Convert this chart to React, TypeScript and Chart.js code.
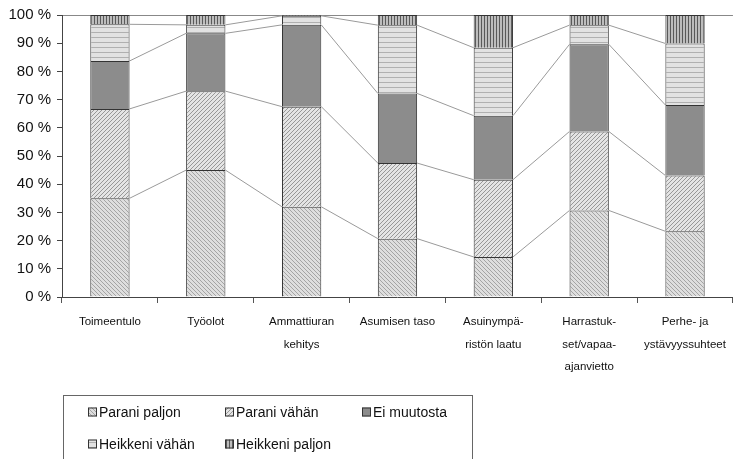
import React, { useEffect, useRef } from 'react';
import { Chart, registerables } from 'chart.js';

Chart.register(...registerables);

const categories: string[][] = [
  ['Toimeentulo'],
  ['Työolot'],
  ['Ammattiuran', 'kehitys'],
  ['Asumisen taso'],
  ['Asuinympä-', 'ristön laatu'],
  ['Harrastuk-', 'set/vapaa-', 'ajanvietto'],
  ['Perhe- ja', 'ystävyyssuhteet'],
];
const seriesNames = ['Parani paljon', 'Parani vähän', 'Ei muutosta', 'Heikkeni vähän', 'Heikkeni paljon'];
const paraniPaljon = [35, 45, 32, 20.7, 14.2, 30.7, 23.3];
const paraniVahan = [31.7, 28, 35.5, 26.8, 27.4, 28, 19.8];
const eiMuutosta = [17, 20.5, 29, 24.7, 22.7, 30.9, 25];
const heikkeniVahan = [13, 3, 3.2, 24.2, 24.1, 6.8, 21.8];
const heikkeniPaljon = [3.3, 3.5, 0.3, 3.6, 11.6, 3.6, 10.1];
const yTickValues = [0, 10, 20, 30, 40, 50, 60, 70, 80, 90, 100];

const FONT = '"Liberation Sans", Arial, sans-serif';

function makePattern(kind: string): CanvasPattern | string {
  const c = document.createElement('canvas');
  const s = kind === 'vert' ? 3 : kind === 'horiz' ? 5 : 4;
  c.width = s;
  c.height = s;
  const g = c.getContext('2d')!;
  if (kind === 'back') {
    g.fillStyle = '#dedede';
    g.fillRect(0, 0, s, s);
    g.strokeStyle = '#a4a4a4';
    g.lineWidth = 1;
    g.beginPath();
    g.moveTo(-1, -1);
    g.lineTo(s + 1, s + 1);
    g.stroke();
  } else if (kind === 'fwd') {
    g.fillStyle = '#e4e4e4';
    g.fillRect(0, 0, s, s);
    g.strokeStyle = '#979797';
    g.lineWidth = 1;
    g.beginPath();
    g.moveTo(-1, s + 1);
    g.lineTo(s + 1, -1);
    g.stroke();
  } else if (kind === 'horiz') {
    g.fillStyle = '#e2e2e2';
    g.fillRect(0, 0, s, s);
    g.fillStyle = '#b0b0b0';
    g.fillRect(0, 2, s, 1);
  } else if (kind === 'vert') {
    g.fillStyle = '#bdbdbd';
    g.fillRect(0, 0, s, s);
    g.fillStyle = '#5a5a5a';
    g.fillRect(1, 0, 1, s);
  }
  const p = g.createPattern(c, 'repeat');
  return p || '#ccc';
}

const connectorPlugin = {
  id: 'connectors',
  beforeDatasetsDraw(chart: any) {
    const ctx = chart.ctx;
    ctx.save();
    ctx.strokeStyle = '#9a9a9a';
    ctx.lineWidth = 1;
    const n = chart.data.datasets.length;
    for (let d = 0; d < n - 1; d++) {
      const meta = chart.getDatasetMeta(d);
      const els = meta.data;
      for (let i = 0; i < els.length - 1; i++) {
        const a = els[i].getProps(['x', 'y', 'width'], true);
        const b = els[i + 1].getProps(['x', 'y', 'width'], true);
        ctx.beginPath();
        ctx.moveTo(a.x + a.width / 2, a.y);
        ctx.lineTo(b.x - b.width / 2, b.y);
        ctx.stroke();
      }
    }
    ctx.restore();
  },
};

const legendPlugin = {
  id: 'boxLegend',
  afterDraw(chart: any) {
    const ctx = chart.ctx;
    ctx.save();
    ctx.strokeStyle = '#666';
    ctx.lineWidth = 1;
    ctx.strokeRect(63.5, 395.5, 409, 70);
    ctx.font = '14px ' + FONT;
    ctx.textBaseline = 'middle';
    ctx.textAlign = 'left';
    chart.data.datasets.forEach((ds: any, i: number) => {
      const col = i % 3;
      const row = Math.floor(i / 3);
      const x = 88 + col * 137;
      const y = 412 + row * 32;
      ctx.fillStyle = ds.backgroundColor;
      ctx.fillRect(x, y - 4.5, 9, 9);
      ctx.strokeStyle = '#333';
      ctx.strokeRect(x + 0.5, y - 4, 8, 8);
      ctx.fillStyle = '#111';
      ctx.fillText(ds.label, x + 11, y + 1);
    });
    ctx.restore();
  },
};

export default function App() {
  const ref = useRef<HTMLCanvasElement>(null);
  useEffect(() => {
    document.body.style.margin = '0';
    const fills = [
      makePattern('back'),
      makePattern('fwd'),
      '#8c8c8c',
      makePattern('horiz'),
      makePattern('vert'),
    ];
    const series = [paraniPaljon, paraniVahan, eiMuutosta, heikkeniVahan, heikkeniPaljon];
    const chart = new Chart(ref.current!, {
      type: 'bar',
      data: {
        labels: categories,
        datasets: series.map((vals, i) => ({
          label: seriesNames[i],
          data: vals,
          backgroundColor: fills[i] as any,
          borderColor: '#333',
          borderWidth: 1,
          barPercentage: 0.41,
          categoryPercentage: 1,
        })),
      },
      options: {
        animation: false,
        responsive: true,
        maintainAspectRatio: false,
        layout: { padding: { top: 14, right: 1, left: 0, bottom: 0 } },
        plugins: {
          legend: { display: false },
          tooltip: { enabled: false },
        },
        scales: {
          x: {
            stacked: true,
            afterFit: (s: any) => {
              s.height = 162;
            },
            grid: {
              display: true,
              drawOnChartArea: false,
              offset: true,
              tickLength: 6,
              tickColor: '#555',
              color: '#555',
            },
            border: { display: true, color: '#444', width: 1 },
            ticks: {
              padding: 8,
              maxRotation: 0,
              autoSkip: false,
              color: '#111',
              font: { family: FONT, size: 11.5, lineHeight: 1.95 },
            },
          },
          y: {
            stacked: true,
            min: 0,
            max: 100,
            afterFit: (s: any) => {
              s.width = 62;
            },
            afterBuildTicks: (s: any) => {
              s.ticks = yTickValues.map((v) => ({ value: v }));
            },
            grid: {
              display: true,
              drawOnChartArea: true,
              tickLength: 5,
              tickColor: '#444',
              color: (c: any) => (c.tick && c.tick.value === 100 ? '#888' : 'rgba(0,0,0,0)'),
            },
            border: { display: true, color: '#444', width: 1 },
            ticks: {
              padding: 6,
              color: '#111',
              font: { family: FONT, size: 15 },
              callback: (v: any) => v + ' %',
            },
          },
        },
      },
      plugins: [connectorPlugin, legendPlugin],
    });
    return () => chart.destroy();
  }, []);
  return (
    <div style={{ position: 'absolute', left: 0, top: 0, width: 734, height: 459 }}>
      <canvas ref={ref} />
    </div>
  );
}
